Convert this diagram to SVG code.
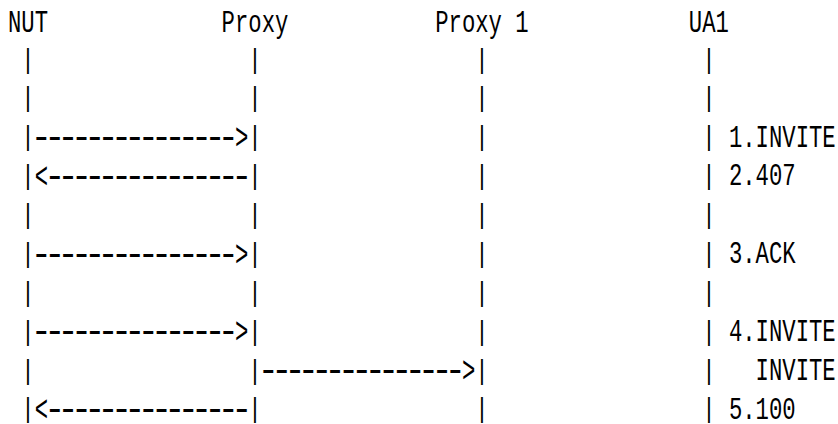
<svg xmlns="http://www.w3.org/2000/svg" width="838" height="424" viewBox="0 0 838 424">
<style>
text { font-family: "Liberation Mono", "DejaVu Sans Mono", monospace; fill: #000; }
.hdr { font-size: 30.5px; }
.lbl { font-size: 32px; }
.bar { font-size: 28.5px; }
.dash { font-size: 36px; letter-spacing: -8.25px; }
.head { font-size: 37px; }
</style>
<rect width="838" height="424" fill="#fff"/>
<g id="node-nut">
<text class="hdr" x="8" y="31.7" textLength="40.05" lengthAdjust="spacingAndGlyphs">NUT</text>
<text class="bar" x="21.35" y="67.6" textLength="13.35" lengthAdjust="spacingAndGlyphs">|</text>
<text class="bar" x="21.35" y="106.4" textLength="13.35" lengthAdjust="spacingAndGlyphs">|</text>
<text class="bar" x="21.35" y="145.3" textLength="13.35" lengthAdjust="spacingAndGlyphs">|</text>
<text class="bar" x="21.35" y="184.2" textLength="13.35" lengthAdjust="spacingAndGlyphs">|</text>
<text class="bar" x="21.35" y="223" textLength="13.35" lengthAdjust="spacingAndGlyphs">|</text>
<text class="bar" x="21.35" y="261.9" textLength="13.35" lengthAdjust="spacingAndGlyphs">|</text>
<text class="bar" x="21.35" y="300.7" textLength="13.35" lengthAdjust="spacingAndGlyphs">|</text>
<text class="bar" x="21.35" y="339.6" textLength="13.35" lengthAdjust="spacingAndGlyphs">|</text>
<text class="bar" x="21.35" y="378.5" textLength="13.35" lengthAdjust="spacingAndGlyphs">|</text>
<text class="bar" x="21.35" y="417.3" textLength="13.35" lengthAdjust="spacingAndGlyphs">|</text>
</g>
<g id="node-proxy">
<text class="hdr" x="221.6" y="31.7" textLength="66.75" lengthAdjust="spacingAndGlyphs">Proxy</text>
<text class="bar" x="248.3" y="67.6" textLength="13.35" lengthAdjust="spacingAndGlyphs">|</text>
<text class="bar" x="248.3" y="106.4" textLength="13.35" lengthAdjust="spacingAndGlyphs">|</text>
<text class="bar" x="248.3" y="145.3" textLength="13.35" lengthAdjust="spacingAndGlyphs">|</text>
<text class="bar" x="248.3" y="184.2" textLength="13.35" lengthAdjust="spacingAndGlyphs">|</text>
<text class="bar" x="248.3" y="223" textLength="13.35" lengthAdjust="spacingAndGlyphs">|</text>
<text class="bar" x="248.3" y="261.9" textLength="13.35" lengthAdjust="spacingAndGlyphs">|</text>
<text class="bar" x="248.3" y="300.7" textLength="13.35" lengthAdjust="spacingAndGlyphs">|</text>
<text class="bar" x="248.3" y="339.6" textLength="13.35" lengthAdjust="spacingAndGlyphs">|</text>
<text class="bar" x="248.3" y="378.5" textLength="13.35" lengthAdjust="spacingAndGlyphs">|</text>
<text class="bar" x="248.3" y="417.3" textLength="13.35" lengthAdjust="spacingAndGlyphs">|</text>
</g>
<g id="node-proxy1">
<text class="hdr" x="435.2" y="31.7" textLength="93.45" lengthAdjust="spacingAndGlyphs">Proxy 1</text>
<text class="bar" x="475.25" y="67.6" textLength="13.35" lengthAdjust="spacingAndGlyphs">|</text>
<text class="bar" x="475.25" y="106.4" textLength="13.35" lengthAdjust="spacingAndGlyphs">|</text>
<text class="bar" x="475.25" y="145.3" textLength="13.35" lengthAdjust="spacingAndGlyphs">|</text>
<text class="bar" x="475.25" y="184.2" textLength="13.35" lengthAdjust="spacingAndGlyphs">|</text>
<text class="bar" x="475.25" y="223" textLength="13.35" lengthAdjust="spacingAndGlyphs">|</text>
<text class="bar" x="475.25" y="261.9" textLength="13.35" lengthAdjust="spacingAndGlyphs">|</text>
<text class="bar" x="475.25" y="300.7" textLength="13.35" lengthAdjust="spacingAndGlyphs">|</text>
<text class="bar" x="475.25" y="339.6" textLength="13.35" lengthAdjust="spacingAndGlyphs">|</text>
<text class="bar" x="475.25" y="378.5" textLength="13.35" lengthAdjust="spacingAndGlyphs">|</text>
<text class="bar" x="475.25" y="417.3" textLength="13.35" lengthAdjust="spacingAndGlyphs">|</text>
</g>
<g id="node-ua1">
<text class="hdr" x="688.85" y="31.7" textLength="40.05" lengthAdjust="spacingAndGlyphs">UA1</text>
<text class="bar" x="702.2" y="67.6" textLength="13.35" lengthAdjust="spacingAndGlyphs">|</text>
<text class="bar" x="702.2" y="106.4" textLength="13.35" lengthAdjust="spacingAndGlyphs">|</text>
<text class="bar" x="702.2" y="145.3" textLength="13.35" lengthAdjust="spacingAndGlyphs">|</text>
<text class="bar" x="702.2" y="184.2" textLength="13.35" lengthAdjust="spacingAndGlyphs">|</text>
<text class="bar" x="702.2" y="223" textLength="13.35" lengthAdjust="spacingAndGlyphs">|</text>
<text class="bar" x="702.2" y="261.9" textLength="13.35" lengthAdjust="spacingAndGlyphs">|</text>
<text class="bar" x="702.2" y="300.7" textLength="13.35" lengthAdjust="spacingAndGlyphs">|</text>
<text class="bar" x="702.2" y="339.6" textLength="13.35" lengthAdjust="spacingAndGlyphs">|</text>
<text class="bar" x="702.2" y="378.5" textLength="13.35" lengthAdjust="spacingAndGlyphs">|</text>
<text class="bar" x="702.2" y="417.3" textLength="13.35" lengthAdjust="spacingAndGlyphs">|</text>
</g>
<g id="connectors">
<g id="msg1">
<text class="dash" x="30.6" y="148">---------------</text>
<text class="head" x="234.95" y="149" textLength="13.35" lengthAdjust="spacingAndGlyphs">&gt;</text>
</g>
<g id="msg2">
<text class="head" x="34.7" y="187.9" textLength="13.35" lengthAdjust="spacingAndGlyphs">&lt;</text>
<text class="dash" x="43.95" y="186.9">---------------</text>
</g>
<g id="msg3">
<text class="dash" x="30.6" y="264.6">---------------</text>
<text class="head" x="234.95" y="265.6" textLength="13.35" lengthAdjust="spacingAndGlyphs">&gt;</text>
</g>
<g id="msg4">
<text class="dash" x="30.6" y="342.3">---------------</text>
<text class="head" x="234.95" y="343.3" textLength="13.35" lengthAdjust="spacingAndGlyphs">&gt;</text>
</g>
<g id="msg4b">
<text class="dash" x="257.55" y="381.2">---------------</text>
<text class="head" x="461.9" y="382.2" textLength="13.35" lengthAdjust="spacingAndGlyphs">&gt;</text>
</g>
<g id="msg5">
<text class="head" x="34.7" y="421" textLength="13.35" lengthAdjust="spacingAndGlyphs">&lt;</text>
<text class="dash" x="43.95" y="420">---------------</text>
</g>
</g>
<g id="labels">
<text class="lbl" x="728.9" y="146.5" textLength="106.8" lengthAdjust="spacingAndGlyphs">1.INVITE</text>
<text class="lbl" x="728.9" y="185.4" textLength="66.75" lengthAdjust="spacingAndGlyphs">2.407</text>
<text class="lbl" x="728.9" y="263.1" textLength="66.75" lengthAdjust="spacingAndGlyphs">3.ACK</text>
<text class="lbl" x="728.9" y="340.8" textLength="106.8" lengthAdjust="spacingAndGlyphs">4.INVITE</text>
<text class="lbl" x="755.6" y="379.7" textLength="80.1" lengthAdjust="spacingAndGlyphs">INVITE</text>
<text class="lbl" x="728.9" y="418.5" textLength="66.75" lengthAdjust="spacingAndGlyphs">5.100</text>
</g>
</svg>
